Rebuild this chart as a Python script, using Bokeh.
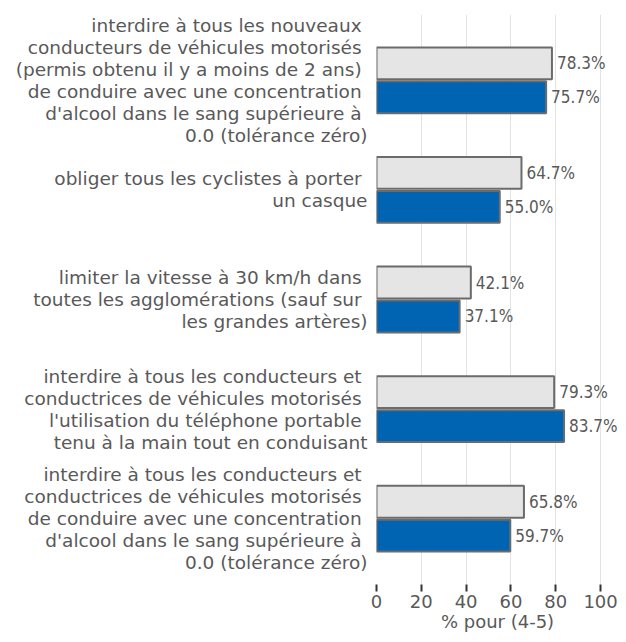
from bokeh.plotting import figure
from bokeh.models import FixedTicker, LabelSet, ColumnDataSource, Range1d
from bokeh.core.properties import value
from bokeh.embed import file_html
from bokeh.resources import INLINE

categories = [
    "interdire à tous les nouveaux \nconducteurs de véhicules motorisés \n(permis obtenu il y a moins de 2 ans) \nde conduire avec une concentration \nd'alcool dans le sang supérieure à \n0.0 (tolérance zéro)",
    "obliger tous les cyclistes à porter \nun casque",
    "limiter la vitesse à 30 km/h dans \ntoutes les agglomérations (sauf sur \nles grandes artères)",
    "interdire à tous les conducteurs et \nconductrices de véhicules motorisés \nl'utilisation du téléphone portable \ntenu à la main tout en conduisant",
    "interdire à tous les conducteurs et \nconductrices de véhicules motorisés \nde conduire avec une concentration \nd'alcool dans le sang supérieure à \n0.0 (tolérance zéro)",
]
grey_values = [78.3, 64.7, 42.1, 79.3, 65.8]
blue_values = [75.7, 55.0, 37.1, 83.7, 59.7]
x_ticks = [0, 20, 40, 60, 80, 100]
x_title = "% pour (4-5)"

FONT = "DejaVu Sans"
FONT_C = "DejaVu Sans Condensed"
TXT = "#595959"

n = len(categories)
centers = [n - 1 - i for i in range(n)]
off = 0.155
bh = 0.29

p = figure(width=618, height=634, output_backend="svg", toolbar_location=None,
           x_range=Range1d(0, 108.0), y_range=Range1d(-0.6, 4.6),
           min_border_left=376, min_border_right=0, min_border_top=14, min_border_bottom=0)
p.outline_line_color = None
p.background_fill_color = "white"

grey_src = ColumnDataSource(dict(y=[c + off for c in centers], v=grey_values,
                                 t=[f"{v:.1f}%" for v in grey_values]))
blue_src = ColumnDataSource(dict(y=[c - off for c in centers], v=blue_values,
                                 t=[f"{v:.1f}%" for v in blue_values]))

p.hbar(y="y", right="v", left=0, height=bh, source=grey_src,
       fill_color="#e5e5e5", line_color="#6b6b6b", line_width=2)
p.hbar(y="y", right="v", left=0, height=bh, source=blue_src,
       fill_color="#0064b2", line_color="#6b6b6b", line_width=2)

for src in (grey_src, blue_src):
    p.add_layout(LabelSet(x="v", y="y", text="t", source=src, x_offset=5,
                          text_baseline="middle", text_font=value(FONT_C),
                          text_font_size="17px", text_color=TXT))

p.xaxis.ticker = FixedTicker(ticks=x_ticks)
p.xaxis.axis_label = x_title
p.xaxis.axis_line_color = None
p.xaxis.major_tick_in = 0
p.xaxis.major_tick_out = 7
p.xaxis.major_tick_line_color = "#333333"
p.xaxis.major_tick_line_width = 2
p.xaxis.minor_tick_line_color = None
p.xaxis.major_label_text_font = FONT
p.xaxis.major_label_text_font_size = "18px"
p.xaxis.major_label_text_color = TXT
p.xaxis.major_label_standoff = 3
p.xaxis.axis_label_text_font = FONT
p.xaxis.axis_label_text_font_size = "18px"
p.xaxis.axis_label_text_font_style = "normal"
p.xaxis.axis_label_text_color = TXT
p.xaxis.axis_label_standoff = 0

p.yaxis.ticker = FixedTicker(ticks=centers)
p.yaxis.major_label_overrides = {c: categories[i] for i, c in enumerate(centers)}
p.yaxis.axis_line_color = None
p.yaxis.major_tick_line_color = None
p.yaxis.minor_tick_line_color = None
p.yaxis.major_label_text_font = FONT
p.yaxis.major_label_text_font_size = "18.5px"
p.yaxis.major_label_text_color = TXT
p.yaxis.major_label_text_line_height = 1.05
p.yaxis.major_label_standoff = 3

p.xgrid.ticker = FixedTicker(ticks=x_ticks)
p.xgrid.grid_line_color = "#e3e3e3"
p.xgrid.grid_line_width = 1
p.ygrid.grid_line_color = None

open("out.html", "w").write(file_html(p, INLINE))
